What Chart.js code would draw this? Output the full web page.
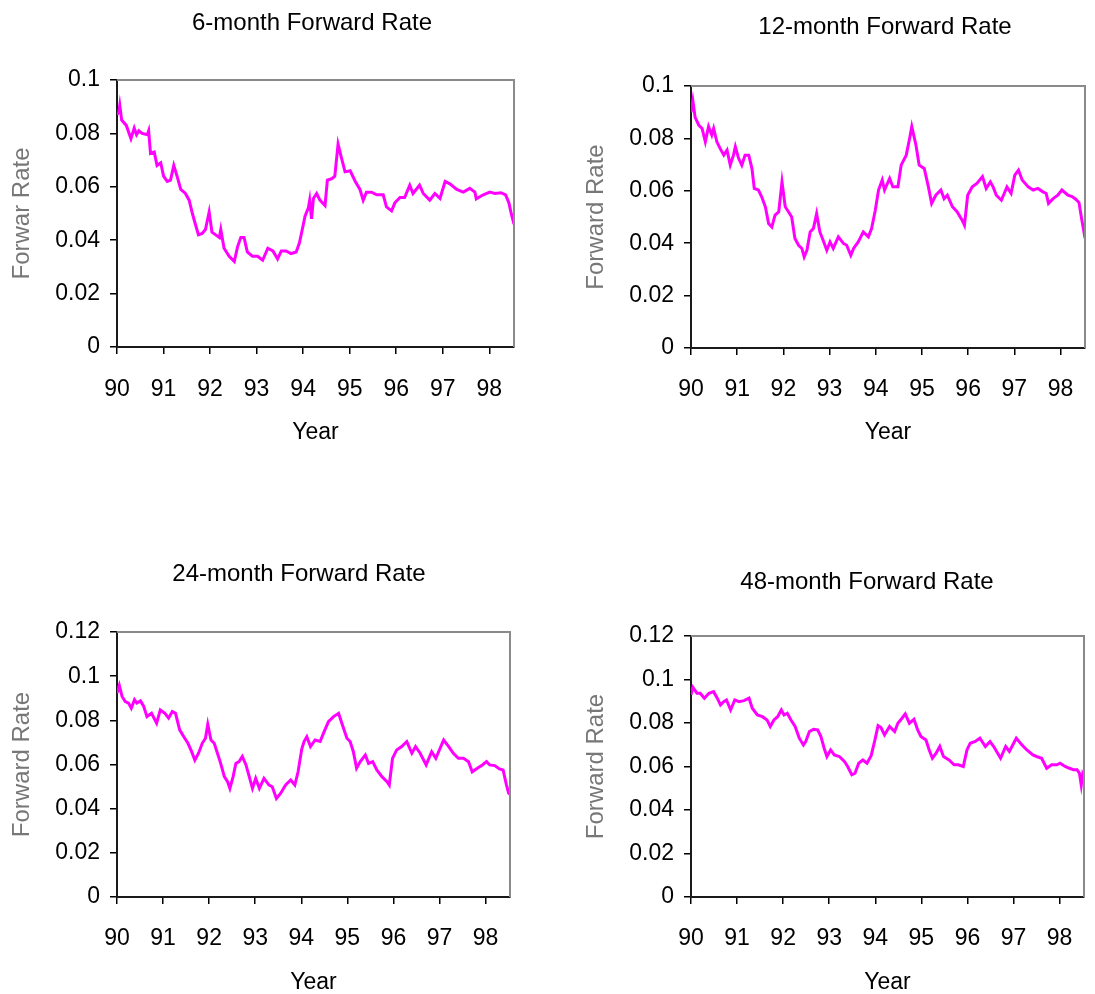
<!DOCTYPE html>
<html>
<head>
<meta charset="utf-8">
<title>Forward Rates 1990-1998</title>
<script src="https://cdn.jsdelivr.net/npm/chart.js@4.4.1/dist/chart.umd.min.js"></script>
<style>
  html, body { margin: 0; padding: 0; background: #ffffff; }
  #stage { position: relative; width: 1095px; height: 994px; overflow: hidden; background: #ffffff; }
  #stage canvas { position: absolute; }
</style>
</head>
<body>
<div id="stage"></div>
<script>
// ---- Data: sample dates (decimal years, 90 = 1990) and forward rates ----
const yearTicks  = [90, 91, 92, 93, 94, 95, 96, 97, 98];
const yearLabels = ['90', '91', '92', '93', '94', '95', '96', '97', '98'];
const rateTicksLow  = [0, 0.02, 0.04, 0.06, 0.08, 0.1];
const rateTicksHigh = [0, 0.02, 0.04, 0.06, 0.08, 0.1, 0.12];

const years6 = [90.00, 90.04, 90.06, 90.10, 90.20, 90.30, 90.37, 90.42, 90.47, 90.54, 90.65, 90.68, 90.72, 90.80, 90.86, 90.94,
  91.00, 91.08, 91.15, 91.22, 91.29, 91.37, 91.47, 91.55, 91.62, 91.69, 91.75, 91.83, 91.90, 91.98,
  92.04, 92.12, 92.20, 92.23, 92.30, 92.41, 92.52, 92.59, 92.66, 92.73, 92.80, 92.91,
  93.02, 93.13, 93.24, 93.35, 93.45, 93.53, 93.63, 93.74, 93.85, 93.92,
  94.00, 94.04, 94.11, 94.14, 94.18, 94.22, 94.29, 94.36, 94.47, 94.52, 94.61, 94.68, 94.75, 94.82, 94.90,
  95.01, 95.12, 95.22, 95.29, 95.36, 95.47, 95.58, 95.72, 95.79, 95.90, 95.97,
  96.08, 96.18, 96.29, 96.36, 96.50, 96.58, 96.72, 96.83, 96.94,
  97.05, 97.16, 97.30, 97.44, 97.58, 97.69, 97.72, 97.87,
  98.01, 98.12, 98.25, 98.35, 98.42, 98.47, 98.53];
const rate6 = [0.087, 0.088, 0.0905, 0.085, 0.083, 0.078, 0.082, 0.0795, 0.081, 0.080, 0.0795, 0.081, 0.0725, 0.073, 0.068, 0.069,
  0.064, 0.062, 0.0625, 0.068, 0.064, 0.059, 0.0575, 0.055, 0.050, 0.0456, 0.042, 0.0425, 0.044, 0.0506,
  0.043, 0.042, 0.041, 0.044, 0.037, 0.034, 0.032, 0.0375, 0.041, 0.041, 0.0356, 0.034,
  0.034, 0.0325, 0.037, 0.036, 0.033, 0.036, 0.036, 0.035, 0.0356, 0.039,
  0.0456, 0.049, 0.052, 0.055, 0.048, 0.0556, 0.0575, 0.055, 0.053, 0.0625, 0.063, 0.064, 0.076, 0.071, 0.0656,
  0.066, 0.062, 0.059, 0.055, 0.058, 0.058, 0.057, 0.057, 0.0525, 0.051, 0.054,
  0.056, 0.056, 0.0606, 0.0575, 0.0606, 0.0575, 0.055, 0.0575, 0.0556,
  0.062, 0.061, 0.059, 0.058, 0.0594, 0.058, 0.0555, 0.057,
  0.058, 0.0575, 0.0578, 0.057, 0.054, 0.050, 0.046];

const years12 = [90.00, 90.04, 90.09, 90.17, 90.24, 90.31, 90.38, 90.45, 90.49, 90.56, 90.63, 90.71, 90.78, 90.85, 90.92, 90.96,
  91.03, 91.10, 91.17, 91.25, 91.32, 91.37, 91.46, 91.53, 91.61, 91.68, 91.75, 91.82, 91.90, 91.97,
  92.04, 92.11, 92.18, 92.25, 92.33, 92.40, 92.45, 92.51, 92.58, 92.65, 92.72, 92.79, 92.86, 92.94,
  93.01, 93.08, 93.19, 93.30, 93.37, 93.46, 93.52, 93.62, 93.73, 93.84, 93.91, 93.99,
  94.06, 94.14, 94.19, 94.30, 94.37, 94.48, 94.55, 94.66, 94.74, 94.78, 94.87, 94.94,
  95.05, 95.14, 95.21, 95.30, 95.41, 95.48, 95.55, 95.66, 95.76, 95.87, 95.92, 95.99,
  96.09, 96.19, 96.31, 96.39, 96.48, 96.54, 96.61, 96.72, 96.84, 96.93,
  97.01, 97.09, 97.17, 97.30, 97.41, 97.51, 97.62, 97.69, 97.74, 97.84, 97.94,
  98.03, 98.16, 98.25, 98.33, 98.40, 98.46, 98.53];
const rate12 = [0.090, 0.0944, 0.088, 0.085, 0.0838, 0.0787, 0.0845, 0.0813, 0.0838, 0.0787, 0.0762, 0.0736, 0.0755, 0.0698, 0.0736, 0.0768,
  0.0724, 0.0698, 0.0736, 0.0736, 0.0685, 0.0609, 0.0603, 0.0577, 0.0539, 0.0475, 0.0462, 0.0507, 0.052, 0.0634,
  0.0539, 0.052, 0.050, 0.0418, 0.0392, 0.038, 0.0348, 0.0373, 0.0443, 0.0456, 0.0513, 0.0443, 0.0411, 0.0373,
  0.0405, 0.038, 0.0424, 0.0399, 0.0392, 0.0354, 0.038, 0.0405, 0.0443, 0.0424, 0.0456, 0.0526,
  0.0603, 0.0641, 0.0603, 0.0647, 0.0615, 0.0615, 0.0698, 0.0736, 0.0806, 0.0845, 0.0775, 0.0698,
  0.0685, 0.0615, 0.0552, 0.0583, 0.0603, 0.057, 0.0583, 0.0539, 0.052, 0.0488, 0.0469, 0.0583,
  0.0615, 0.0628, 0.0654, 0.0609, 0.0634, 0.0615, 0.0583, 0.0564, 0.0615, 0.059,
  0.066, 0.0679, 0.0641, 0.0615, 0.0603, 0.0609, 0.0596, 0.059, 0.0552, 0.057, 0.0583,
  0.0603, 0.0583, 0.0578, 0.0568, 0.0555, 0.049, 0.042];

const years24 = [90.00, 90.05, 90.11, 90.18, 90.25, 90.31, 90.38, 90.43, 90.51, 90.58, 90.65, 90.75, 90.86, 90.94,
  91.04, 91.12, 91.20, 91.27, 91.36, 91.45, 91.54, 91.62, 91.69, 91.77, 91.85, 91.92, 91.97,
  92.04, 92.11, 92.18, 92.25, 92.33, 92.40, 92.45, 92.52, 92.58, 92.65, 92.72, 92.80, 92.87, 92.94,
  93.01, 93.09, 93.19, 93.30, 93.37, 93.46, 93.55, 93.66, 93.77, 93.86, 93.93,
  94.01, 94.06, 94.12, 94.20, 94.30, 94.41, 94.48, 94.59, 94.70, 94.81, 94.88, 94.99,
  95.06, 95.13, 95.20, 95.28, 95.39, 95.46, 95.55, 95.64, 95.75, 95.86, 95.91, 95.98,
  96.07, 96.18, 96.29, 96.40, 96.48, 96.58, 96.71, 96.83, 96.92,
  97.09, 97.20, 97.30, 97.41, 97.52, 97.63, 97.71, 97.82, 97.93,
  98.02, 98.09, 98.20, 98.30, 98.38, 98.45, 98.50, 98.53];
const rate24 = [0.0923, 0.0958, 0.0908, 0.0885, 0.0878, 0.0855, 0.0893, 0.0878, 0.0888, 0.0863, 0.0817, 0.0832, 0.0787, 0.0847,
  0.0832, 0.081, 0.084, 0.0832, 0.0757, 0.0726, 0.0696, 0.0658, 0.062, 0.0651, 0.0696, 0.0719, 0.0782,
  0.0711, 0.0696, 0.0651, 0.0605, 0.0545, 0.0522, 0.0492, 0.0545, 0.0605, 0.0613, 0.0636, 0.0598, 0.0545, 0.0492,
  0.0537, 0.0492, 0.0537, 0.0507, 0.0499, 0.0446, 0.0469, 0.0507, 0.053, 0.0507, 0.0567,
  0.067, 0.0704, 0.0726, 0.0681, 0.0711, 0.0704, 0.0741, 0.0794, 0.0817, 0.0832, 0.0787, 0.0719,
  0.0704, 0.0658, 0.0583, 0.0613, 0.0643, 0.0605, 0.0613, 0.0575, 0.0545, 0.0522, 0.0507, 0.0628,
  0.0666, 0.0681, 0.0704, 0.0651, 0.0681, 0.0651, 0.0598, 0.0658, 0.0628,
  0.0711, 0.0681, 0.0651, 0.0628, 0.0628, 0.0613, 0.0567, 0.0583, 0.0598,
  0.0613, 0.0598, 0.0595, 0.058, 0.0575, 0.051, 0.047, 0.0465];

const years48 = [90.00, 90.04, 90.13, 90.20, 90.29, 90.39, 90.49, 90.57, 90.64, 90.71, 90.77, 90.86, 90.95,
  91.04, 91.15, 91.26, 91.33, 91.44, 91.55, 91.65, 91.72, 91.80, 91.88, 91.96,
  92.02, 92.09, 92.17, 92.26, 92.35, 92.44, 92.49, 92.57, 92.66, 92.75, 92.82, 92.89, 92.95,
  93.03, 93.11, 93.22, 93.33, 93.40, 93.49, 93.56, 93.64, 93.73, 93.82, 93.91, 93.99,
  94.06, 94.12, 94.20, 94.31, 94.42, 94.49, 94.58, 94.65, 94.74, 94.84, 94.92, 94.99,
  95.10, 95.17, 95.24, 95.32, 95.40, 95.48, 95.60, 95.71, 95.80, 95.91, 95.99,
  96.06, 96.17, 96.27, 96.39, 96.49, 96.57, 96.72, 96.83, 96.91,
  97.06, 97.18, 97.29, 97.42, 97.50, 97.61, 97.72, 97.83, 97.94,
  98.01, 98.12, 98.20, 98.30, 98.38, 98.43, 98.47, 98.50, 98.53];
const rate48 = [0.0929, 0.0964, 0.0937, 0.0937, 0.0914, 0.0937, 0.0944, 0.0914, 0.0883, 0.0898, 0.0906, 0.086, 0.0906,
  0.0898, 0.0903, 0.0914, 0.0868, 0.0837, 0.0829, 0.0814, 0.0784, 0.0814, 0.0829, 0.086,
  0.0837, 0.0845, 0.0814, 0.0784, 0.073, 0.0699, 0.0715, 0.0761, 0.0771, 0.0768, 0.0738, 0.0684, 0.0646,
  0.0676, 0.0653, 0.0646, 0.0623, 0.060, 0.0562, 0.0569, 0.0615, 0.063, 0.0615, 0.065, 0.072,
  0.0788, 0.078, 0.0745, 0.0784, 0.0761, 0.0799, 0.0822, 0.0842, 0.0799, 0.0817, 0.0768, 0.0738,
  0.0722, 0.0676, 0.0638, 0.0661, 0.0692, 0.0646, 0.063, 0.0608, 0.0608, 0.060, 0.0676,
  0.0707, 0.0715, 0.073, 0.0692, 0.0715, 0.0692, 0.0638, 0.0692, 0.0669,
  0.073, 0.070, 0.0676, 0.0653, 0.0646, 0.0638, 0.0592, 0.0608, 0.0608,
  0.0615, 0.060, 0.0593, 0.0585, 0.0585, 0.057, 0.0515, 0.0562, 0.0545];

// ---- Panel layout (page pixels) ----
const FONT = "'Liberation Sans', Arial, Helvetica, sans-serif";
const LINE_COLOR = '#ff00ff';
const X_MAX = 98.53;

const panels = [
  { title: '6-month Forward Rate', yTitle: 'Forwar Rate', years: years6, rates: rate6, yTicks: rateTicksLow, yMax: 0.1,
    box: { x: 0, y: 0, w: 548, h: 470 }, area: { l: 117, t: 80, r: 514, b: 347 },
    titleAt: { x: 312, y: 23 }, yTitleX: 22, tickY: 390, yearY: 433 },
  { title: '12-month Forward Rate', yTitle: 'Forward Rate', years: years12, rates: rate12, yTicks: rateTicksLow, yMax: 0.1,
    box: { x: 548, y: 0, w: 547, h: 470 }, area: { l: 691, t: 86, r: 1087, b: 348 },
    titleAt: { x: 885, y: 27 }, yTitleX: 596, tickY: 390, yearY: 433 },
  { title: '24-month Forward Rate', yTitle: 'Forward Rate', years: years24, rates: rate24, yTicks: rateTicksHigh, yMax: 0.12,
    box: { x: 0, y: 520, w: 548, h: 474 }, area: { l: 117, t: 632, r: 510, b: 897 },
    titleAt: { x: 299, y: 574 }, yTitleX: 22, tickY: 939, yearY: 983 },
  { title: '48-month Forward Rate', yTitle: 'Forward Rate', years: years48, rates: rate48, yTicks: rateTicksHigh, yMax: 0.12,
    box: { x: 548, y: 520, w: 547, h: 474 }, area: { l: 691, t: 636, r: 1084, b: 897 },
    titleAt: { x: 867, y: 582 }, yTitleX: 596, tickY: 939, yearY: 983 }
];

const TICK_SIZE = 23, AXIS_TITLE_SIZE = 23, Y_TITLE_SIZE = 24, TITLE_SIZE = 24;
const TICK_LEN = 7;

// Grey top/right frame of the plot area plus the panel heading
const framePlugin = {
  id: 'panelFrame',
  afterDraw(chart, args, opts) {
    const { ctx, chartArea: a } = chart;
    ctx.save();
    ctx.strokeStyle = '#8a8a8a';
    ctx.lineWidth = 2;
    ctx.beginPath();
    ctx.moveTo(a.left, a.top);
    ctx.lineTo(a.right, a.top);
    ctx.lineTo(a.right, a.bottom);
    ctx.stroke();
    ctx.fillStyle = '#000000';
    ctx.font = TITLE_SIZE + 'px ' + FONT;
    ctx.textAlign = 'center';
    ctx.textBaseline = 'middle';
    ctx.fillText(opts.text, opts.x, opts.y);
    ctx.restore();
  }
};

const stage = document.getElementById('stage');

function buildPanel(p) {
  const canvas = document.createElement('canvas');
  canvas.width = p.box.w;
  canvas.height = p.box.h;
  canvas.style.left = p.box.x + 'px';
  canvas.style.top = p.box.y + 'px';
  canvas.style.width = p.box.w + 'px';
  canvas.style.height = p.box.h + 'px';
  stage.appendChild(canvas);

  const a = { l: p.area.l - p.box.x, t: p.area.t - p.box.y, r: p.area.r - p.box.x, b: p.area.b - p.box.y };
  const tickLH = TICK_SIZE * 1.2;
  const axisLH = AXIS_TITLE_SIZE * 1.2;
  const yTitleLH = Y_TITLE_SIZE * 1.2;
  const xScaleBottom = p.yearY - p.box.y + axisLH / 2;
  const xAxisH = xScaleBottom - a.b;
  const xTickPad = (p.tickY - p.area.b) - TICK_LEN - tickLH / 2;

  const points = p.years.map((t, i) => ({ x: t, y: p.rates[i] }));

  new Chart(canvas, {
    type: 'line',
    data: {
      datasets: [{
        data: points,
        borderColor: LINE_COLOR,
        borderWidth: 3,
        pointRadius: 0,
        tension: 0,
        fill: false
      }]
    },
    options: {
      responsive: false,
      animation: false,
      devicePixelRatio: 1,
      events: [],
      layout: { padding: { left: 0, top: a.t, right: p.box.w - a.r, bottom: p.box.h - xScaleBottom } },
      plugins: {
        legend: { display: false },
        tooltip: { enabled: false },
        title: { display: false },
        panelFrame: { text: p.title, x: p.titleAt.x - p.box.x, y: p.titleAt.y - p.box.y }
      },
      scales: {
        x: {
          type: 'linear',
          min: 90,
          max: X_MAX,
          afterBuildTicks: (s) => { s.ticks = yearTicks.map(v => ({ value: v })); },
          afterFit: (s) => { s.height = xAxisH; },
          ticks: {
            callback: (v) => yearLabels[yearTicks.indexOf(v)],
            font: { family: FONT, size: TICK_SIZE, lineHeight: 1.2 },
            color: '#000000',
            padding: xTickPad,
            maxRotation: 0,
            autoSkip: false
          },
          grid: { display: true, drawOnChartArea: false, drawTicks: true, tickLength: TICK_LEN, color: '#000000', lineWidth: 1.5 },
          border: { display: true, color: '#1a1a1a', width: 2 },
          title: {
            display: true,
            text: 'Year',
            color: '#000000',
            font: { family: FONT, size: AXIS_TITLE_SIZE, lineHeight: 1.2 },
            padding: { top: 0, bottom: 0 }
          }
        },
        y: {
          type: 'linear',
          min: 0,
          max: p.yMax,
          afterBuildTicks: (s) => { s.ticks = p.yTicks.map(v => ({ value: v })); },
          afterFit: (s) => { s.width = a.l; },
          ticks: {
            callback: (v) => String(v),
            font: { family: FONT, size: TICK_SIZE, lineHeight: 1.2 },
            color: '#000000',
            padding: 10
          },
          grid: { display: true, drawOnChartArea: false, drawTicks: true, tickLength: TICK_LEN, color: '#000000', lineWidth: 1.5 },
          border: { display: true, color: '#1a1a1a', width: 2 },
          title: {
            display: true,
            text: p.yTitle,
            color: '#777777',
            font: { family: FONT, size: Y_TITLE_SIZE, lineHeight: 1.2 },
            padding: { top: p.yTitleX - p.box.x - yTitleLH / 2, bottom: 0 }
          }
        }
      }
    },
    plugins: [framePlugin]
  });
}

panels.forEach(buildPanel);
</script>
</body>
</html>
